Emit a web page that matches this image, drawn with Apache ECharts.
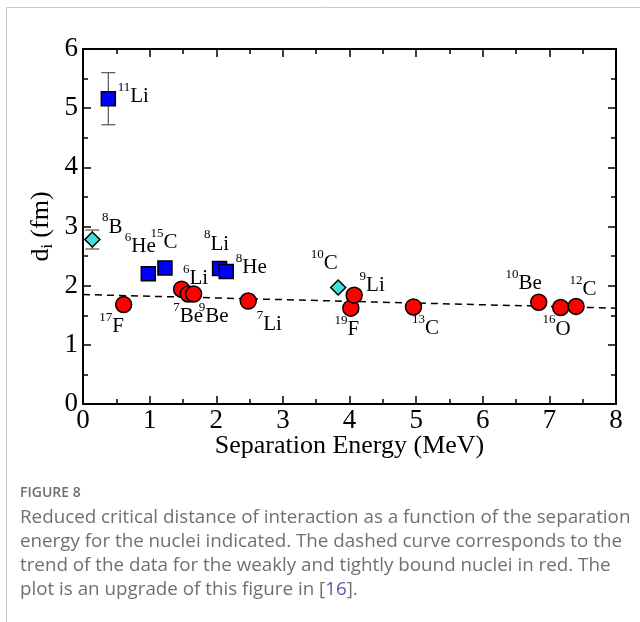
<!DOCTYPE html>
<html>
<head>
<meta charset="utf-8">
<script src="https://cdn.jsdelivr.net/npm/echarts@6/dist/echarts.min.js"></script>
<style>
  html, body { margin: 0; padding: 0; background: #fff; }
  #chart { width: 640px; height: 622px; }
</style>
</head>
<body>
<div id="chart"></div>
<script>
// weakly bound / halo nuclei (blue squares)
const squareMass = [11, 6, 15, 8, 8];
const squareElem = ['Li', 'He', 'C', 'Li', 'He'];
const squareSn = [0.38, 0.98, 1.23, 2.05, 2.15];
const squareD = [5.16, 2.20, 2.30, 2.29, 2.24];
const squareErr = [0.44, 0, 0, 0, 0];

// proton-rich nuclei (cyan diamonds)
const diamondMass = [8, 10];
const diamondElem = ['B', 'C'];
const diamondSn = [0.14, 3.83];
const diamondD = [2.78, 1.97];
const diamondErr = [0.16, 0];

// weakly and tightly bound nuclei (red circles)
const circleMass = [17, 6, 7, 9, 7, 19, 9, 13, 10, 16, 12];
const circleElem = ['F', 'Li', 'Be', 'Be', 'Li', 'F', 'Li', 'C', 'Be', 'O', 'C'];
const circleSn = [0.61, 1.48, 1.58, 1.66, 2.48, 4.02, 4.07, 4.96, 6.84, 7.17, 7.40];
const circleD = [1.68, 1.94, 1.86, 1.86, 1.74, 1.62, 1.84, 1.64, 1.72, 1.63, 1.65];

// dashed trend line
const trendSn = [0, 8];
const trendD = [1.85, 1.62];

const xTicks = [0, 1, 2, 3, 4, 5, 6, 7, 8];
const yTicks = [0, 1, 2, 3, 4, 5, 6];

// label offsets (px, from the marker centre)
const labelOffsets = {
  '11Li': [25, -5], '6He': [-8, -30], '15C': [-1, -28], '8Li': [-3, -27], '8He': [25, -6],
  '8B': [20, -15], '10C': [-14, -26],
  '17F': [-12, 19], '6Li': [14, -13], '7Be': [0, 20], '9Be': [20, 20], '7Li': [21, 21],
  '19F': [-4, 19], '9Li': [18, -12], '13C': [12, 19], '10Be': [-15, -21], '16O': [-4, 19], '12C': [7, -19]
};

const serif = '"Liberation Serif", "Times New Roman", serif';

const chart = echarts.init(document.getElementById('chart'), null, { renderer: 'canvas' });

function points(mass, elem, xs, ys) {
  return xs.map((x, i) => {
    const key = mass[i] + elem[i];
    return {
      value: [x, ys[i]],
      name: key,
      label: { offset: labelOffsets[key] || [0, 0] }
    };
  });
}

function bars(xs, ys, errs) {
  return xs.map((x, i) => [x, ys[i], errs[i]]).filter(d => d[2] > 0);
}

function errorBarItem(params, api) {
  const x = api.value(0), y = api.value(1), e = api.value(2);
  const top = api.coord([x, y + e]);
  const bot = api.coord([x, y - e]);
  const cap = 7;
  const style = { stroke: '#555', lineWidth: 1.2 };
  return {
    type: 'group',
    children: [
      { type: 'line', shape: { x1: top[0], y1: top[1], x2: bot[0], y2: bot[1] }, style },
      { type: 'line', shape: { x1: top[0] - cap, y1: top[1], x2: top[0] + cap, y2: top[1] }, style },
      { type: 'line', shape: { x1: bot[0] - cap, y1: bot[1], x2: bot[0] + cap, y2: bot[1] }, style }
    ]
  };
}

const nucleusLabel = {
  show: true,
  position: 'inside',
  align: 'center',
  verticalAlign: 'middle',
  formatter: p => {
    const m = p.name.match(/^(\d+)(.*)$/);
    return '{m|' + m[1] + '}{e|' + m[2] + '}';
  },
  rich: {
    m: { fontFamily: serif, fontSize: 13, color: '#000', verticalAlign: 'top', lineHeight: 26 },
    e: { fontFamily: serif, fontSize: 21, color: '#000', verticalAlign: 'bottom', lineHeight: 26 }
  }
};

const axisCommon = {
  type: 'value',
  axisLine: { show: true, onZero: false, lineStyle: { color: '#000', width: 2 } },
  axisTick: { show: true, inside: true, length: 8, lineStyle: { color: '#000', width: 1.5 } },
  minorTick: { show: true, splitNumber: 2, length: 5, lineStyle: { color: '#000', width: 1.5 } },
  splitLine: { show: false },
  minorSplitLine: { show: false }
};

const option = {
  backgroundColor: '#fff',
  animation: false,
  grid: { left: 83, right: 24, top: 49, bottom: 218 },
  xAxis: [
    {
      ...axisCommon,
      min: xTicks[0], max: xTicks[xTicks.length - 1], interval: 1,
      position: 'bottom',
      axisLabel: { color: '#000', fontFamily: serif, fontSize: 27, margin: 3 },
      name: 'Separation Energy (MeV)',
      nameLocation: 'middle',
      nameGap: 29,
      nameMoveOverlap: false,
      nameTextStyle: { color: '#000', fontFamily: serif, fontSize: 26 }
    },
    {
      ...axisCommon,
      min: xTicks[0], max: xTicks[xTicks.length - 1], interval: 1,
      position: 'top',
      axisLabel: { show: false }
    }
  ],
  yAxis: [
    {
      ...axisCommon,
      min: yTicks[0], max: yTicks[yTicks.length - 1], interval: 1,
      position: 'left',
      axisLabel: { color: '#000', fontFamily: serif, fontSize: 27, margin: 5 },
      name: '{d|d}{s|i}{d| (fm)}',
      nameLocation: 'middle',
      nameRotate: 90,
      nameGap: 27,
      nameMoveOverlap: false,
      nameTextStyle: {
        rich: {
          d: { fontFamily: serif, fontSize: 26, color: '#000', verticalAlign: 'middle', lineHeight: 30 },
          s: { fontFamily: serif, fontSize: 16, color: '#000', verticalAlign: 'bottom', lineHeight: 30 }
        }
      }
    },
    {
      ...axisCommon,
      min: yTicks[0], max: yTicks[yTicks.length - 1], interval: 1,
      position: 'right',
      axisLabel: { show: false }
    }
  ],
  series: [
    {
      type: 'line',
      data: trendSn.map((x, i) => [x, trendD[i]]),
      symbol: 'none',
      lineStyle: { color: '#000', width: 1.5, type: [7, 5] },
      z: 1,
      silent: true
    },
    {
      type: 'custom',
      renderItem: errorBarItem,
      data: bars(squareSn, squareD, squareErr).concat(bars(diamondSn, diamondD, diamondErr)),
      z: 2,
      silent: true
    },
    {
      type: 'scatter',
      data: points(circleMass, circleElem, circleSn, circleD),
      symbol: 'circle',
      symbolSize: 16,
      itemStyle: { color: '#ff0000', borderColor: '#000', borderWidth: 1.5, opacity: 1 },
      label: nucleusLabel,
      z: 3
    },
    {
      type: 'scatter',
      data: points(squareMass, squareElem, squareSn, squareD),
      symbol: 'rect',
      symbolSize: 14,
      itemStyle: { color: '#0000ff', borderColor: '#000', borderWidth: 1.5, opacity: 1 },
      label: nucleusLabel,
      z: 4
    },
    {
      type: 'scatter',
      data: points(diamondMass, diamondElem, diamondSn, diamondD),
      symbol: 'diamond',
      symbolSize: 15,
      itemStyle: { color: '#40e0e0', borderColor: '#000', borderWidth: 1.5, opacity: 1 },
      label: nucleusLabel,
      z: 4
    }
  ],
  graphic: [
    {
      type: 'polyline',
      shape: { points: [[6.5, 622], [6.5, 7.5], [640, 7.5]] },
      style: { stroke: '#c8c8c8', lineWidth: 1, fill: null },
      silent: true
    },
    {
      type: 'text', left: 20, top: 486,
      style: { text: 'FIGURE 8', font: '600 14px "Open Sans", sans-serif', fill: '#6e6e6e' }
    },
    {
      type: 'text', left: 20, top: 506,
      style: {
        text: 'Reduced critical distance of interaction as a function of the separation\n' +
              'energy for the nuclei indicated. The dashed curve corresponds to the\n' +
              'trend of the data for the weakly and tightly bound nuclei in red. The\n' +
              'plot is an upgrade of this figure in [{r|16}].',
        font: '18.8px "Open Sans", sans-serif',
        fill: '#707070',
        lineHeight: 24,
        rich: { r: { font: '18.8px "Open Sans", sans-serif', fill: '#5a5aa8', lineHeight: 24 } }
      }
    }
  ]
};

chart.setOption(option);
window.addEventListener('resize', () => chart.resize());
</script>
</body>
</html>
